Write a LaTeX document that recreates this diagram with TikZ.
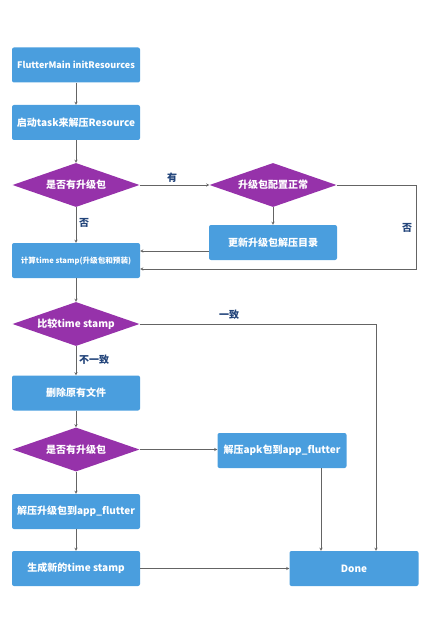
\documentclass[tikz,border=0pt]{standalone}
\usepackage{fontspec}
\setmainfont{Noto Sans CJK SC}
\usetikzlibrary{shapes,arrows,positioning,calc}
\usepackage{xcolor}
\definecolor{boxblue}{RGB}{74,158,222}
\definecolor{choicepurple}{RGB}{150,50,170}
\definecolor{labelnavy}{RGB}{34,68,122}
\definecolor{linegray}{RGB}{100,100,100}

\tikzset{
    stepbox/.style={rectangle, rounded corners=2pt, fill=boxblue, text=white, font=\fontsize{10}{11}\selectfont\bfseries, minimum width=128pt, minimum height=35pt, inner sep=1pt},
    choice/.style={diamond, aspect=3, fill=choicepurple, text=white, font=\fontsize{10}{11}\selectfont\bfseries, minimum width=127pt, minimum height=44pt, inner sep=0pt},
    flow/.style={->, >=stealth, draw=linegray, thin},
    answer/.style={text=labelnavy, font=\fontsize{10}{11}\selectfont\bfseries}
}

\begin{document}
\begin{tikzpicture}[x=1pt, y=-1pt]
    \useasboundingbox (0,0) rectangle (431,628);
    % Start and unpack
    \node[stepbox, font=\fontsize{9}{10}\selectfont\bfseries] (init) at (76,65) {FlutterMain initResources};
    \node[stepbox] (task) at (76,122.5) {启动task来解压Resource};
    \node[choice] (hasup) at (76,185) {是否有升级包};
    \node[choice] (cfgok) at (273,185) {升级包配置正常};
    \node[stepbox] (update) at (273,242.5) {更新升级包解压目录};
    \node[stepbox, font=\fontsize{7.6}{8}\selectfont\bfseries] (calc) at (76,260.5) {计算time stamp(升级包和预装)};
    % Compare and extract
    \node[choice] (cmp) at (76,324) {比较time stamp};
    \node[stepbox] (del) at (76,393) {删除原有文件};
    \node[choice] (hasup2) at (76,449.5) {是否有升级包};
    \node[stepbox, minimum width=129pt] (apk) at (282,450.5) {解压apk包到app\_flutter};
    \node[stepbox] (unzip) at (76,511.5) {解压升级包到app\_flutter};
    \node[stepbox] (gen) at (76,568.5) {生成新的time stamp};
    \node[stepbox, minimum width=129pt] (done) at (354,568.5) {Done};

    % Connectors
    \draw[flow] (init) -- (task);
    \draw[flow] (task) -- (hasup);
    \draw[flow] (hasup) -- (calc);
    \draw[flow] (hasup) -- (cfgok);
    \draw[flow] (cfgok) -- (update);
    \draw[flow] ([yshift=-8.5pt]update.west) -- ([yshift=-8.5pt]update.west -| calc.east);
    \draw[flow] (cfgok.east) -| ([xshift=276pt,yshift=-8.5pt]calc.east) -- ([yshift=-8.5pt]calc.east);
    \draw[flow] (calc) -- (cmp);
    \draw[flow] (cmp) -- (del);
    \draw[flow] (cmp.east) -| ([xshift=22pt]done.north);
    \draw[flow] (del) -- (hasup2);
    \draw[flow] (hasup2) -- (apk.west |- hasup2);
    \draw[flow] (hasup2) -- (unzip);
    \draw[flow] (unzip) -- (gen);
    \draw[flow] (gen) -- (done);
    \draw[flow] ([xshift=39pt]apk.south) -- ([xshift=39pt]apk.south |- done.north);

    % Answers
    \node[answer] (yes1) at (172,178) {有};
    \node[answer] (no1) at (84,223) {否};
    \node[answer] (no2) at (407,228) {否};
    \node[answer] (same) at (229,315) {一致};
    \node[answer] (diff) at (94,360) {不一致};
\end{tikzpicture}
\end{document}
